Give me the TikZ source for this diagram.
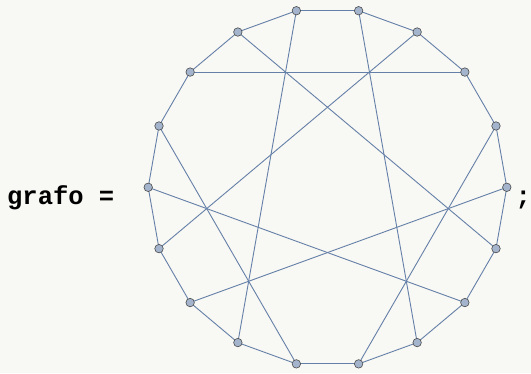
\documentclass[tikz,border=0pt]{standalone}
\usepackage{fontspec}
\newfontfamily\codefont{Liberation Mono}
\usetikzlibrary{calc}
\pgfdeclarelayer{bglayer}
\pgfdeclarelayer{edgelayer}
\pgfsetlayers{bglayer,edgelayer,main}
\definecolor{edgecol}{HTML}{6580A8}
\definecolor{vertfill}{HTML}{A3B4CC}
\definecolor{bgcol}{HTML}{F8F8F4}
\begin{document}
\begin{tikzpicture}[x=1pt,y=-1pt,
  edge/.style={draw=edgecol,line width=0.9pt},
  vert/.style={circle,fill=vertfill,draw=black!70,line width=0.6pt,minimum size=8.5pt,inner sep=0pt},
  code/.style={font=\codefont\bfseries\fontsize{25.5}{30}\selectfont,inner sep=0pt,text=black}]
\begin{pgfonlayer}{bglayer}
\fill[bgcol] (0,0) rectangle (531,373);
\end{pgfonlayer}
\useasboundingbox (0,0) rectangle (531,373);
\foreach \i in {0,...,17} {
  \node[vert] (v\i) at ($(327.5,187.3)+({179.3*cos(20*\i)},{-179.3*sin(20*\i)})$) {};
}
\begin{pgfonlayer}{edgelayer}
\foreach \i [evaluate=\i as \j using {int(mod(\i+1,18))}] in {0,...,17} {
  \draw[edge] (v\i.center) -- (v\j.center);
}
\foreach \a/\b in {7/2, 6/17, 3/10, 5/12, 4/15, 8/13, 1/14, 9/16, 0/11} {
  \draw[edge] (v\a.center) -- (v\b.center);
}
\end{pgfonlayer}
\node[code,anchor=base west] (lbl) at (7,204) {grafo =};
\node[code,anchor=base east] (semi) at (531,204) {;};
\end{tikzpicture}
\end{document}
